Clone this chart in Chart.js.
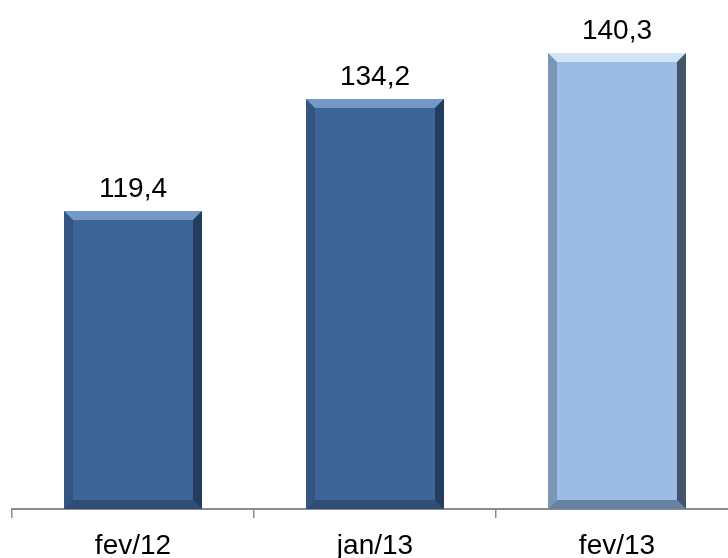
<!DOCTYPE html>
<html>
<head>
<meta charset="utf-8">
<script src="https://cdn.jsdelivr.net/npm/chart.js@4"></script>
<style>
  html, body { margin: 0; padding: 0; background: #fff; overflow: hidden; }
  #wrap { width: 740px; height: 558px; }
</style>
</head>
<body>
<div id="wrap"><canvas id="barChart"></canvas></div>
<script>
// Chart data
const categories = ['fev/12', 'jan/13', 'fev/13'];
const values = [119.4, 134.2, 140.3];
const barColors = ['#3e6597', '#3e6597', '#9cbce3'];
const lightColors = ['#7399c8', '#7399c8', '#d2e4f8'];
const darkColors = ['#1d3350', '#1d3350', '#2c3b4f'];

// bevel look on each bar (uses bar element geometry from the scales)
const bevelPlugin = {
    id: 'bevel',
    afterDatasetsDraw(chart) {
        const ctx = chart.ctx;
        const meta = chart.getDatasetMeta(0);
        meta.data.forEach((bar, i) => {
            const w = bar.width;
            const left = bar.x - w / 2, right = bar.x + w / 2;
            const top = bar.y, bottom = Math.min(bar.base, chart.chartArea.bottom);
            const b = 9;
            ctx.save();
            // top
            ctx.fillStyle = lightColors[i];
            ctx.beginPath();
            ctx.moveTo(left, top); ctx.lineTo(right, top);
            ctx.lineTo(right - b, top + b); ctx.lineTo(left + b, top + b);
            ctx.closePath(); ctx.fill();
            // left
            ctx.globalAlpha = 0.3;
            ctx.fillStyle = darkColors[i];
            ctx.beginPath();
            ctx.moveTo(left, top); ctx.lineTo(left + b, top + b);
            ctx.lineTo(left + b, bottom - b); ctx.lineTo(left, bottom);
            ctx.closePath(); ctx.fill();
            // bottom
            ctx.globalAlpha = 0.45;
            ctx.beginPath();
            ctx.moveTo(left, bottom); ctx.lineTo(left + b, bottom - b);
            ctx.lineTo(right - b, bottom - b); ctx.lineTo(right, bottom);
            ctx.closePath(); ctx.fill();
            // right
            ctx.globalAlpha = 0.8;
            ctx.beginPath();
            ctx.moveTo(right, top); ctx.lineTo(right - b, top + b);
            ctx.lineTo(right - b, bottom - b); ctx.lineTo(right, bottom);
            ctx.closePath(); ctx.fill();
            ctx.restore();
        });
    }
};

// value labels above bars, with decimal comma
const labelPlugin = {
    id: 'valueLabels',
    afterDatasetsDraw(chart) {
        const ctx = chart.ctx;
        const meta = chart.getDatasetMeta(0);
        ctx.save();
        ctx.font = '28px "Liberation Sans", Arial, sans-serif';
        ctx.fillStyle = '#000';
        ctx.textAlign = 'center';
        ctx.textBaseline = 'alphabetic';
        meta.data.forEach((bar, i) => {
            ctx.fillText(values[i].toFixed(1).replace('.', ','), bar.x, bar.y - 14);
        });
        ctx.restore();
    }
};

const ctx = document.getElementById('barChart').getContext('2d');
new Chart(ctx, {
    type: 'bar',
    data: {
        labels: categories,
        datasets: [{
            data: values,
            backgroundColor: barColors,
            borderWidth: 0,
            categoryPercentage: 1,
            barPercentage: 0.57
        }]
    },
    options: {
        responsive: true,
        maintainAspectRatio: false,
        animation: false,
        layout: { padding: { left: 12, right: 2, top: 0, bottom: -16 } },
        plugins: {
            legend: { display: false },
            tooltip: { enabled: false }
        },
        scales: {
            x: {
                grid: {
                    offset: true,
                    drawOnChartArea: false,
                    drawTicks: true,
                    tickLength: 9,
                    color: '#8c8c8c',
                    lineWidth: 1.5
                },
                border: { display: true, color: '#8c8c8c', width: 2 },
                ticks: {
                    color: '#000',
                    padding: 14,
                    font: { family: '"Liberation Sans", Arial, sans-serif', size: 28, lineHeight: 1 }
                }
            },
            y: {
                display: false,
                min: 80,
                max: 147.3
            }
        }
    },
    plugins: [bevelPlugin, labelPlugin]
});
</script>
</body>
</html>
